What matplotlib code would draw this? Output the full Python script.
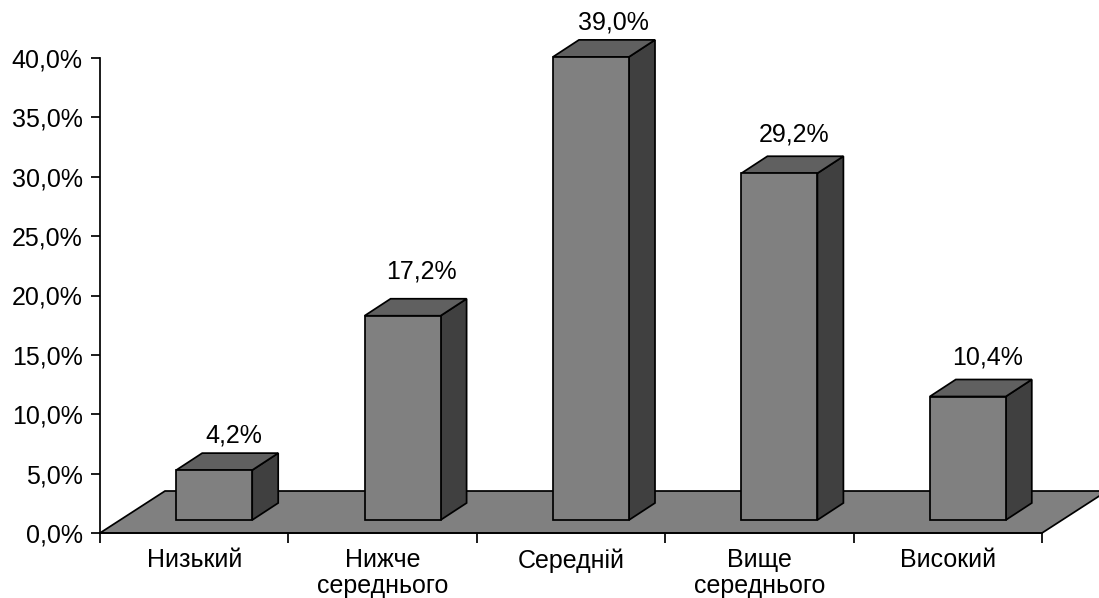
import matplotlib
matplotlib.use('Agg')
import matplotlib.pyplot as plt
from matplotlib.patches import Polygon
import numpy as np

# --- Data ---
categories = ['Низький', 'Нижче\nсереднього', 'Середній', 'Вище\nсереднього', 'Високий']
values = [4.2, 17.2, 39.0, 29.2, 10.4]
value_labels = ['4,2%', '17,2%', '39,0%', '29,2%', '10,4%']
y_ticks = [0, 5, 10, 15, 20, 25, 30, 35, 40]
y_tick_labels = ['0,0%', '5,0%', '10,0%', '15,0%', '20,0%', '25,0%', '30,0%', '35,0%', '40,0%']

# --- Style ---
FRONT = '#808080'
TOP = '#606060'
SIDE = '#404040'
LW = 1.25
FONT = 18

# Plot area in pixels
W, H = 1099, 598
AX_L, AX_R, AX_T, AX_B = 100, 1042, 58, 533
PX_X = 5 / (AX_R - AX_L)    # data units per pixel
PX_Y = 40 / (AX_B - AX_T)

# Value label placement, pixels from the front face centre / back top edge
LABEL_DX = [20, 19, 22, 15, 20]
LABEL_DY = [18, 27, 17, 22, 22]

plt.rcParams['font.family'] = ['Liberation Sans', 'DejaVu Sans']

fig = plt.figure(figsize=(W / 100, H / 100), dpi=100, facecolor='white')
ax = fig.add_axes([AX_L / W, 1 - AX_B / H, (AX_R - AX_L) / W, (AX_B - AX_T) / H])
ax.set_xlim(0, 5)
ax.set_ylim(0, 40)
ax.patch.set_visible(False)

# Oblique projection offsets
floor_dx = 65 * PX_X
floor_dy = 42 * PX_Y
depth_dx = 26 * PX_X
depth_dy = 17 * PX_Y
base_dy = 13 * PX_Y
bar_w = 76 * PX_X
bar_shift = 20 * PX_X


def add_face(points, color):
    ax.add_patch(Polygon(points, closed=True, facecolor=color, edgecolor='black',
                         linewidth=LW, joinstyle='miter', clip_on=False))


# Floor
add_face([(0, 0), (5, 0), (5 + floor_dx, floor_dy), (floor_dx, floor_dy)], FRONT)

# 3D bars: side, top, then front face
for i, (val, lab) in enumerate(zip(values, value_labels)):
    x0 = i + 0.5 + bar_shift - bar_w / 2
    x1 = x0 + bar_w
    y0 = base_dy
    y1 = base_dy + val
    add_face([(x1, y0), (x1 + depth_dx, y0 + depth_dy),
              (x1 + depth_dx, y1 + depth_dy), (x1, y1)], SIDE)
    add_face([(x0, y1), (x1, y1), (x1 + depth_dx, y1 + depth_dy),
              (x0 + depth_dx, y1 + depth_dy)], TOP)
    add_face([(x0, y0), (x1, y0), (x1, y1), (x0, y1)], FRONT)
    ax.text((x0 + x1) / 2 + LABEL_DX[i] * PX_X, y1 + depth_dy + LABEL_DY[i] * PX_Y, lab,
            ha='center', va='center', fontsize=FONT, color='black', clip_on=False)

# Axes
for side in ['top', 'right']:
    ax.spines[side].set_visible(False)
for side in ['left', 'bottom']:
    ax.spines[side].set_linewidth(LW)
    ax.spines[side].set_zorder(5)

ax.set_yticks(y_ticks)
ax.set_yticklabels(y_tick_labels, fontsize=FONT)
ax.tick_params(axis='y', length=6.5, width=LW, pad=6)

ax.set_xticks(np.arange(0, 6))
ax.set_xticklabels([])
ax.tick_params(axis='x', which='major', length=7, width=LW)
ax.set_xticks(np.arange(0.5, 5), categories, minor=True, fontsize=FONT, linespacing=1.08)
ax.tick_params(axis='x', which='minor', length=0, pad=11)

fig.savefig('out.png', dpi=100)
plt.close(fig)
